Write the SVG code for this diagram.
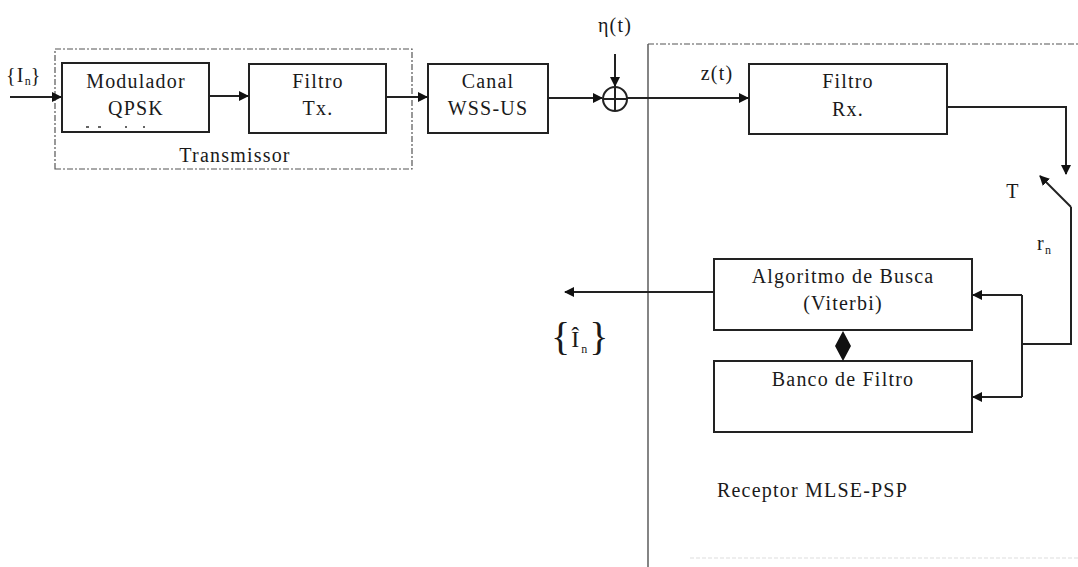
<svg xmlns="http://www.w3.org/2000/svg" width="1078" height="567" viewBox="0 0 1078 567">
<style>
.box{fill:none;stroke:#222;stroke-width:2}
.ln{fill:none;stroke:#222;stroke-width:2}
.thin{fill:none;stroke:#333;stroke-width:1.2}
.dash{fill:none;stroke:#555;stroke-width:1.2;stroke-dasharray:6 2 2 2}
text{font-family:"Liberation Serif","DejaVu Serif","Times New Roman",serif;fill:#1a1a1a;font-size:20px;letter-spacing:1.2px}
.c{text-anchor:middle}
.brace{font-size:40px;letter-spacing:0}
.hat{font-size:24px;letter-spacing:0}
.sub{font-size:12px;letter-spacing:0}
</style>
<defs>
<marker id="ah" markerWidth="10" markerHeight="10" refX="9" refY="5" orient="auto" markerUnits="userSpaceOnUse">
<path d="M0,0 L10,5 L0,10 Z" fill="#111"/>
</marker>
</defs>
<rect width="1078" height="567" fill="#fff"/>

<g id="transmissor">
<path class="dash" d="M55,169 L55,49 L412,49 L412,169 Z"/>
<text class="c" x="235" y="162">Transmissor</text>
</g>
<g id="receptor">
<path class="thin" d="M648,567 L648,44"/>
<path class="dash" d="M648,44 L1078,44"/>
<path d="M690,558 L1078,558" stroke="#ddd" stroke-width="1" stroke-dasharray="4 2"/>
<text x="717" y="497">Receptor MLSE-PSP</text>
</g>

<g id="modulador">
<rect class="box" x="62" y="63" width="147" height="69"/>
<text class="c" x="136" y="88">Modulador</text>
<text class="c" x="136" y="115">QPSK</text>
<path d="M86,127h3M98,127h3M125,127h2M143,127h2" stroke="#333" stroke-width="1.5"/>
</g>
<g id="filtro-tx">
<rect class="box" x="249" y="64" width="137" height="69"/>
<text class="c" x="318" y="88">Filtro</text>
<text class="c" x="318" y="115">Tx.</text>
</g>
<g id="canal">
<rect class="box" x="428" y="64" width="120" height="69"/>
<text class="c" x="488" y="88">Canal</text>
<text class="c" x="488" y="115">WSS-US</text>
</g>
<g id="somador">
<circle cx="615" cy="99" r="12" class="ln"/>
<path class="ln" d="M603,99H627M615,87V111"/>
<text class="c" x="615" y="32">η(t)</text>
</g>
<g id="filtro-rx">
<rect class="box" x="749" y="64" width="198" height="70"/>
<text class="c" x="848" y="88">Filtro</text>
<text class="c" x="848" y="116">Rx.</text>
</g>
<g id="algoritmo">
<rect class="box" x="714" y="259" width="258" height="71"/>
<text class="c" x="843" y="283">Algoritmo de Busca</text>
<text class="c" x="843" y="310">(Viterbi)</text>
</g>
<g id="banco">
<rect class="box" x="714" y="361" width="258" height="71"/>
<text class="c" x="843" y="386">Banco de Filtro</text>
</g>

<g id="labels">
<text x="6" y="82">{I<tspan class="sub" dy="3">n</tspan><tspan dy="-3">}</tspan></text>
<text class="c" x="717" y="80">z(t)</text>
<text class="c" x="1013" y="198">T</text>
<text x="1037" y="250">r<tspan class="sub" dy="4">n</tspan></text>
<text class="brace" x="551" y="350">{<tspan class="hat" dx="1" dy="-3">Î</tspan><tspan class="sub" dx="2" dy="6">n</tspan><tspan dx="2" dy="-3">}</tspan></text>
</g>

<g id="connectors">
<path class="ln" d="M10,97H61" marker-end="url(#ah)"/>
<path class="ln" d="M209,96H248" marker-end="url(#ah)"/>
<path class="ln" d="M386,97H427" marker-end="url(#ah)"/>
<path class="ln" d="M548,98H602" marker-end="url(#ah)"/>
<path class="ln" d="M615,54V86" marker-end="url(#ah)"/>
<path class="ln" d="M627,98H748" marker-end="url(#ah)"/>
<path class="ln" d="M947,107H1066V174" marker-end="url(#ah)"/>
<path class="ln" d="M1071,207L1040,176" marker-end="url(#ah)"/>
<path class="ln" d="M1071,207V344H1022"/>
<path class="ln" d="M1022,295V397"/>
<path class="ln" d="M1022,295H973" marker-end="url(#ah)"/>
<path class="ln" d="M1022,397H973" marker-end="url(#ah)"/>
<path class="ln" d="M714,292H565" marker-end="url(#ah)"/>
<path d="M843,331L851,346L843,361L835,346Z" fill="#111"/>
</g>
</svg>
